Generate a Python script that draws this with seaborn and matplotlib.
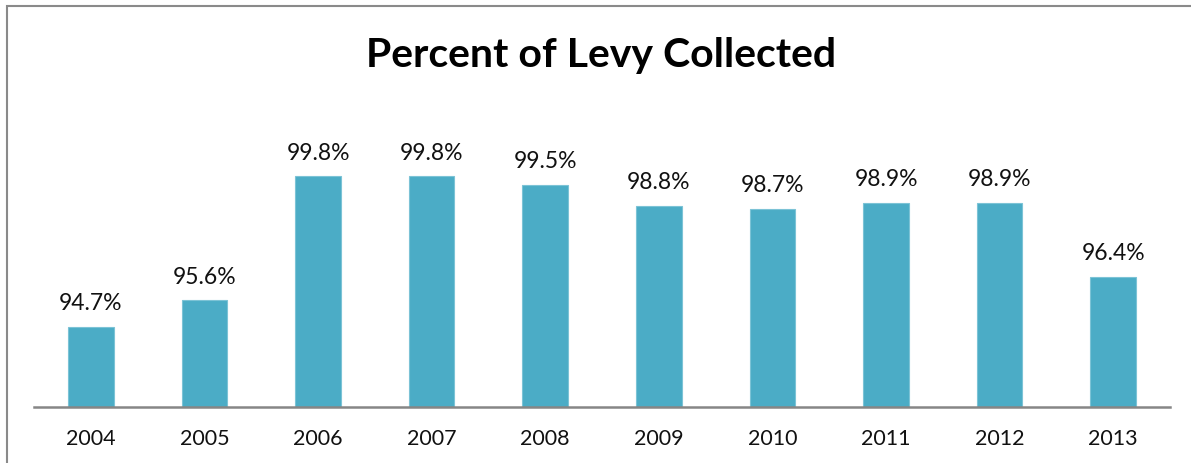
import matplotlib
matplotlib.use('Agg')
import matplotlib.pyplot as plt
import seaborn as sns
import pandas as pd
from matplotlib.patches import Rectangle

# Данные
years = ['2004', '2005', '2006', '2007', '2008', '2009', '2010', '2011', '2012', '2013']
percent_collected = [94.7, 95.6, 99.8, 99.8, 99.5, 98.8, 98.7, 98.9, 98.9, 96.4]

df = pd.DataFrame({'year': years, 'pct': percent_collected})

sns.set_style('white')
plt.rcParams['font.family'] = ['Lato', 'DejaVu Sans']

W, H = 1191, 464
fig = plt.figure(figsize=(W / 100, H / 100), dpi=100)
ax = fig.add_axes([34 / W, 1 - 407.7 / H, (1170 - 34) / W, (407.7 - 142) / H])

sns.barplot(data=df, x='year', y='pct', color='#4BACC6', width=0.4,
            edgecolor='#7cc3d6', linewidth=0.8, saturation=1, ax=ax)
ax.set_ylim(92, 101)
ax.set_xlim(-0.5, len(years) - 0.5)

ax.bar_label(ax.containers[0], labels=[f'{v:.1f}%' for v in percent_collected],
             padding=10, fontsize=16.5, color='#111111')

ax.set_xlabel('')
ax.set_ylabel('')
ax.set_yticks([])
ax.tick_params(axis='x', length=0, pad=15, labelsize=15.5, labelcolor='#111111')
for side in ['top', 'right', 'left']:
    ax.spines[side].set_visible(False)
ax.spines['bottom'].set_color('#868686')
ax.spines['bottom'].set_linewidth(1.8)

fig.text(601 / W, 1 - 56 / H, 'Percent of Levy Collected',
         ha='center', va='center', fontsize=29.5, fontweight='bold', color='black')

# рамка графика
fig.patches.append(Rectangle((7 / W, -0.1), 1.2, 1 - 7 / H + 0.1,
                             transform=fig.transFigure, fill=False,
                             edgecolor='#8a8a8a', linewidth=1.5))

fig.savefig('out.png', dpi=100)
